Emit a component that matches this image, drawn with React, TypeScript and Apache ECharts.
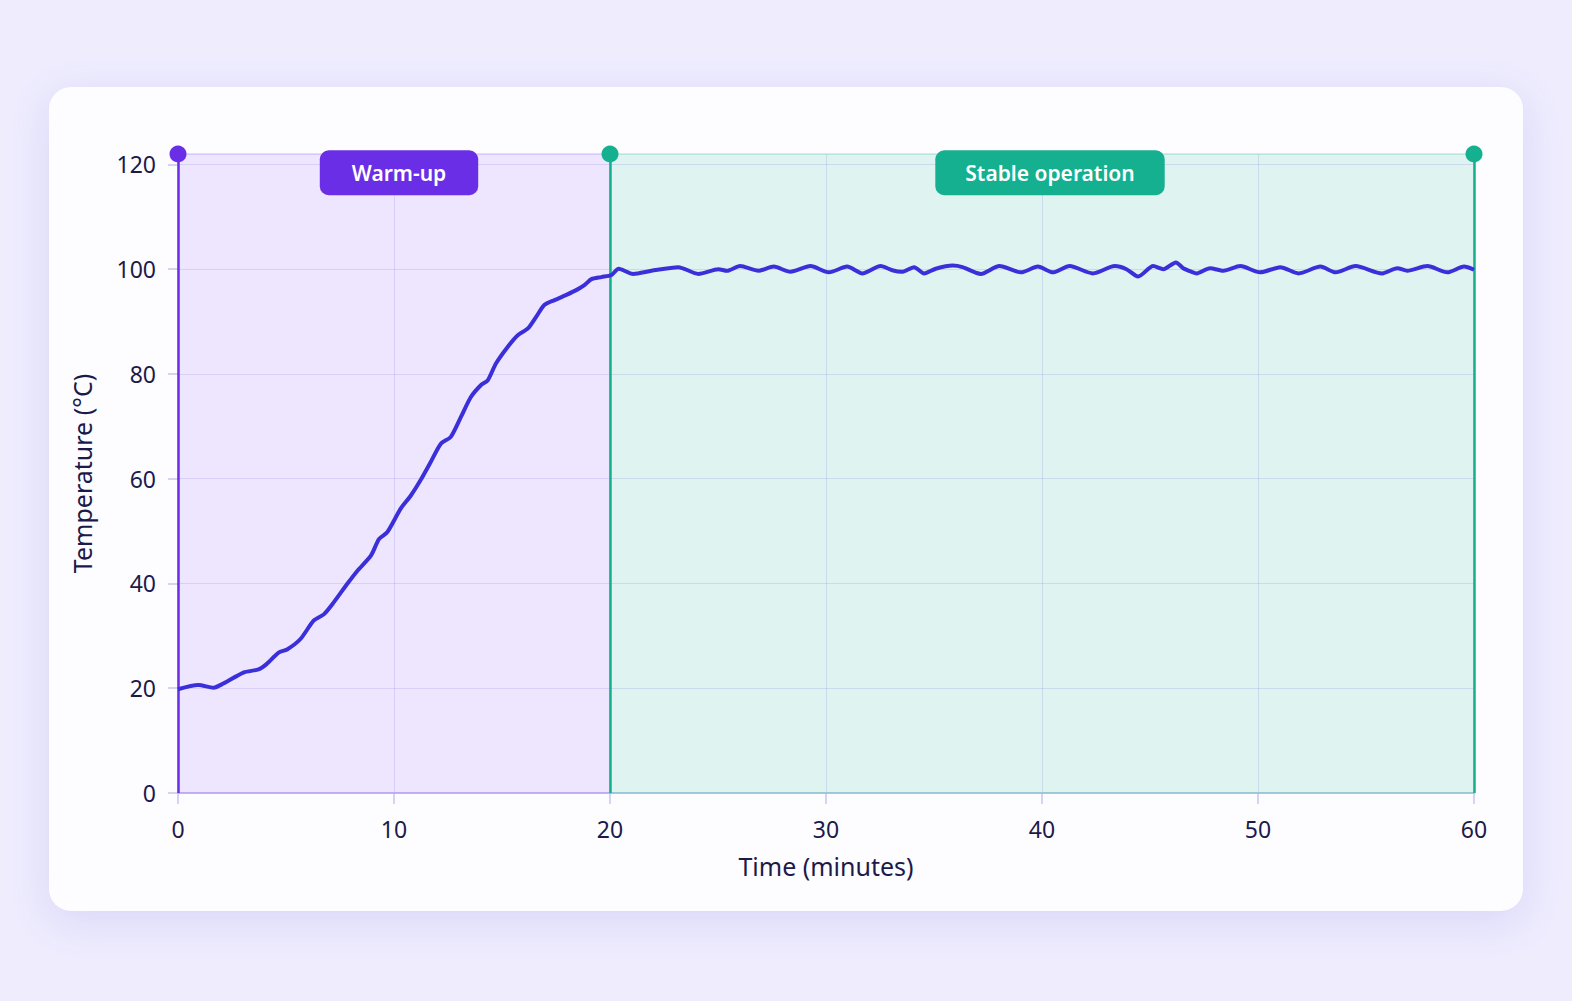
import { useEffect, useRef } from 'react';
import * as echarts from 'echarts';

// minutes
const times = [
  0, 0.94, 1.64, 2.1, 3.03, 3.73, 4.1, 4.66, 5.05, 5.67, 6.28, 6.75, 7.21, 7.83, 8.3, 8.93,
  9.31, 9.69, 10.31, 10.78, 11.24, 11.7, 12.17, 12.63, 13.1, 13.56, 14.03, 14.34, 14.72,
  15.27, 15.73, 16.2, 16.58, 16.97, 17.43, 17.98, 18.52, 18.83, 19.14, 19.6, 20.07, 20.4,
  21.07, 21.92, 23.16, 24.09, 25.02, 25.41, 26.02, 26.88, 27.58, 28.35, 29.28, 30.13, 30.98,
  31.68, 32.53, 33.07, 33.5, 34.08, 34.54, 35.08, 35.86, 36.32, 37.17, 38.03, 39.03, 39.81,
  40.5, 41.28, 42.36, 43.37, 43.91, 44.45, 45.15, 45.62, 46.2, 46.54, 46.93, 47.16, 47.78,
  48.4, 49.18, 50.1, 51.03, 51.88, 52.89, 53.59, 54.52, 55.75, 56.45, 56.91, 57.84, 58.77,
  59.54, 60,
];

// temperature (°C) at each of those minutes
const temps = [
  19.8, 20.6, 20.1, 20.9, 23.0, 23.6, 24.6, 26.8, 27.4, 29.4, 32.9, 34.1, 36.4, 39.9, 42.4, 45.3,
  48.5, 49.8, 54.3, 56.8, 59.8, 63.2, 66.7, 68.0, 71.8, 75.6, 77.9, 78.8, 82.0,
  85.2, 87.4, 88.7, 90.9, 93.2, 94.1, 95.1, 96.2, 97.0, 98.1, 98.5, 98.9, 100.1,
  99.1, 99.7, 100.4, 99.1, 100.0, 99.7, 100.6, 99.7, 100.5, 99.5, 100.6, 99.4, 100.5,
  99.2, 100.6, 99.8, 99.5, 100.4, 99.2, 100.1, 100.7, 100.4, 99.1, 100.6, 99.4, 100.5,
  99.4, 100.6, 99.2, 100.6, 100.0, 98.6, 100.6, 100.0, 101.3, 100.2, 99.5, 99.2, 100.2,
  99.7, 100.6, 99.4, 100.4, 99.2, 100.5, 99.4, 100.6, 99.2, 100.2, 99.7, 100.6, 99.4,
  100.5, 99.9,
];

const yTicks = [0, 20, 40, 60, 80, 100, 120];

const phases = [
  { name: 'Warm-up', from: 0, to: 20 },
  { name: 'Stable operation', from: 20, to: 60 },
];

const boundaries = [0, 20, 60];

const PURPLE = '#6a2ee6';
const GREEN = '#14b08f';
const TEXT = '#1c1a4a';
const AXIS = '#c9c3f0';
const FONT = '"Noto Sans", "Open Sans", sans-serif';

export default function App() {
  const chartRef = useRef<HTMLDivElement>(null);

  useEffect(() => {
    if (!chartRef.current) return;
    const chart = echarts.init(chartRef.current, null, { renderer: 'svg' });

    const option: echarts.EChartsOption = {
      animation: false,
      textStyle: { fontFamily: FONT },
      grid: { left: 178, right: 98, top: 154, bottom: 208 },
      xAxis: {
        type: 'value',
        min: 0,
        max: 60,
        interval: 10,
        name: 'Time (minutes)',
        nameLocation: 'middle',
        nameGap: 60,
        nameTextStyle: { color: TEXT, fontSize: 25, fontFamily: FONT },
        axisLine: { show: true, lineStyle: { color: AXIS, width: 1.5 } },
        axisTick: { show: true, length: 11, lineStyle: { color: AXIS, width: 1.5 } },
        axisLabel: { color: TEXT, fontSize: 23, margin: 24, fontFamily: FONT },
        splitLine: { show: true, lineStyle: { color: 'rgba(130,120,220,0.2)', width: 1 } },
      },
      yAxis: {
        type: 'value',
        min: 0,
        max: 122,
        interval: 20,
        name: 'Temperature (°C)',
        nameLocation: 'middle',
        nameGap: 84,
        nameTextStyle: { color: TEXT, fontSize: 25, fontFamily: FONT },
        axisLine: { show: false },
        axisTick: { show: true, length: 10, customValues: yTicks, lineStyle: { color: AXIS, width: 1.5 } },
        axisLabel: { color: TEXT, fontSize: 23, margin: 22, customValues: yTicks, fontFamily: FONT },
        splitLine: { show: true, lineStyle: { color: 'rgba(130,120,220,0.2)', width: 1 } },
      },
      series: [
        {
          type: 'line',
          data: times.map((t, i) => [t, temps[i]]),
          smooth: 0.25,
          symbol: 'none',
          z: 5,
          lineStyle: { color: '#3a2fd8', width: 4 },
          markArea: {
            silent: true,
            data: phases.map((p, i) => [
              {
                name: p.name,
                xAxis: p.from,
                itemStyle: {
                  color: i === 0 ? 'rgba(139,92,246,0.14)' : 'rgba(20,176,143,0.13)',
                  borderColor: i === 0 ? 'rgba(139,92,246,0.28)' : 'rgba(20,176,143,0.25)',
                  borderWidth: 1.5,
                },
                label: {
                  backgroundColor: i === 0 ? PURPLE : GREEN,
                  offset: i === 0 ? [5, -8] : [8, -8],
                  padding: i === 0 ? [12, 32, 12, 32] : [12, 30, 12, 30],
                },
              },
              { xAxis: p.to },
            ]) as any,
            label: {
              show: true,
              position: 'insideTop',
              color: '#ffffff',
              fontSize: 21,
              fontWeight: 600,
              fontFamily: FONT,
              borderRadius: 9,
            },
          },
          markLine: {
            silent: true,
            symbol: ['none', 'circle'],
            symbolSize: 17,
            label: { show: false },
            data: boundaries.map((b) => ({
              xAxis: b,
              lineStyle: { color: b === 0 ? PURPLE : GREEN, width: 2.5, type: 'solid' },
              itemStyle: { color: b === 0 ? PURPLE : GREEN },
            })),
          },
        },
      ],
    };

    chart.setOption(option);
    return () => chart.dispose();
  }, []);

  return (
    <div
      style={{
        position: 'fixed',
        left: 0,
        top: 0,
        width: 1572,
        height: 1001,
        background: '#eeecfd',
        overflow: 'hidden',
      }}
    >
      <div
        style={{
          position: 'absolute',
          left: 49,
          top: 87,
          width: 1474,
          height: 824,
          borderRadius: 22,
          background: '#fdfdff',
          boxShadow: '0 10px 40px rgba(120, 100, 230, 0.16)',
        }}
      />
      <div ref={chartRef} style={{ position: 'absolute', left: 0, top: 0, width: 1572, height: 1001 }} />
    </div>
  );
}
